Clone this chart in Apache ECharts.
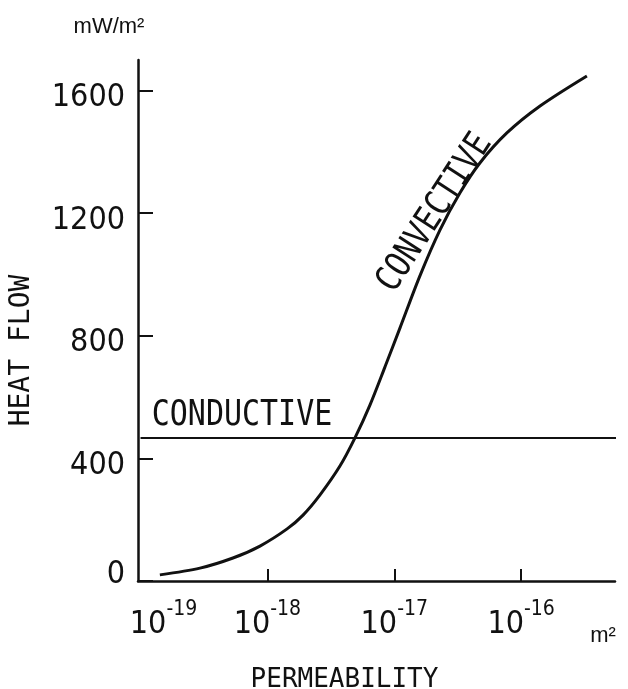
<!DOCTYPE html>
<html>
<head>
<meta charset="utf-8">
<script src="https://cdn.jsdelivr.net/npm/echarts@6/dist/echarts.min.js"></script>
<style>
	html, body { margin: 0; padding: 0; background: #fff; }
	#heatFlowChart { width: 628px; height: 689px; }
</style>
</head>
<body>
<div id="heatFlowChart"></div>
<script>
// values: permeability in m2, heat flow in mW/m2
var permeability = [1.42e-19, 2.94e-19, 5.35e-19, 8.74e-19, 1.43e-18, 1.91e-18, 2.60e-18, 3.73e-18,
	4.90e-18, 6.43e-18, 8.44e-18, 1.11e-17, 1.59e-17, 2.29e-17, 3.29e-17, 4.73e-17,
	7.72e-17, 1.41e-16, 3.30e-16];
var heatFlow = [20, 42, 75, 114, 170, 215, 281, 375,
	467, 574, 698, 826, 995, 1145, 1266, 1364,
	1462, 1550, 1648];

// conductive level, flat across the plot
var conductivePerm = [1e-19, 6.8e-16];
var conductiveHeat = [467, 467];

// tick labels
var xLabelExp = [-19, -18, -17, -16];
var xTickExp = [-18, -17, -16];
var yTicks = [0, 400, 800, 1200, 1600];

var narrow = '"Liberation Sans Narrow", "DejaVu Sans Condensed", sans-serif';
var mono = '"DejaVu Sans Mono", monospace';
var ink = '#111';

function toPoints(ks, qs) {
	var pts = [];
	for (var i = 0; i < ks.length; i++) {
		pts.push([Math.log10(ks[i]), qs[i]]);
	}
	return pts;
}

var chart = echarts.init(document.getElementById('heatFlowChart'));

var option = {
	backgroundColor: '#fff',
	animation: false,

	grid: {
		left: 138,
		right: 13,
		top: 60,
		bottom: 108,
		outerBoundsMode: 'none'
	},

	// permeability axis, log10 of m2
	xAxis: {
		type: 'value',
		min: -19.02,
		max: -15.26,
		name: 'PERMEABILITY',
		nameLocation: 'middle',
		nameGap: 86,
		nameTextStyle: {
			fontFamily: mono,
			fontSize: 26,
			color: ink,
			padding: [0, 64, 0, 0]
		},
		axisLine: { lineStyle: { color: ink, width: 2.5 } },
		axisTick: {
			inside: true,
			length: 12,
			customValues: xTickExp,
			lineStyle: { color: ink, width: 2 }
		},
		axisLabel: {
			customValues: xLabelExp,
			margin: 18,
			formatter: function (v) {
				var pre = Math.round(v) === -19 ? '{sp|}' : '';
				return pre + '{b|10}{s|' + Math.round(v) + '}';
			},
			rich: {
				b: { fontFamily: narrow, fontSize: 32, lineHeight: 42, verticalAlign: 'bottom', color: ink },
				s: { fontFamily: narrow, fontSize: 21, lineHeight: 20, verticalAlign: 'top', color: ink },
				sp: { width: 46 }
			}
		},
		splitLine: { show: false }
	},

	// heat flow axis
	yAxis: {
		type: 'value',
		min: 0,
		max: 1700,
		name: 'HEAT FLOW',
		nameLocation: 'middle',
		nameGap: 102,
		nameTextStyle: {
			fontFamily: mono,
			fontSize: 28,
			color: ink,
			padding: [0, 60, 0, 0]
		},
		axisLine: { lineStyle: { color: ink, width: 2.5 } },
		axisTick: {
			inside: true,
			length: 15,
			customValues: yTicks,
			lineStyle: { color: ink, width: 2 }
		},
		axisLabel: {
			customValues: yTicks,
			margin: 13,
			formatter: function (v) {
				// the zero sits a little above its tick, the others a little below
				return v === 0 ? '{z|0}' : '{n|' + v + '}';
			},
			rich: {
				n: { fontFamily: narrow, fontSize: 32, color: ink, padding: [14, 0, 0, 0] },
				z: { fontFamily: narrow, fontSize: 32, color: ink, padding: [0, 0, 12, 0] }
			}
		},
		splitLine: { show: false }
	},

	series: [
		{
			name: 'convective',
			type: 'line',
			data: toPoints(permeability, heatFlow),
			smooth: 0.3,
			showSymbol: false,
			lineStyle: { color: ink, width: 3 }
		},
		{
			name: 'conductive',
			type: 'line',
			data: toPoints(conductivePerm, conductiveHeat),
			clip: false,
			showSymbol: false,
			lineStyle: { color: ink, width: 2 }
		}
	],

	// units and curve labels
	graphic: [
		{
			type: 'text', x: 109, y: 27,
			style: { text: 'mW/m²', font: '22px "Liberation Sans", Arial, sans-serif', fill: ink, align: 'center', verticalAlign: 'middle' }
		},
		{
			type: 'text', x: 603, y: 636,
			style: { text: 'm²', font: '22px "Liberation Sans", Arial, sans-serif', fill: ink, align: 'center', verticalAlign: 'middle' }
		},
		{
			type: 'text', x: 242, y: 416, scaleY: 1.2,
			style: { text: 'CONDUCTIVE', font: '30px ' + mono, fill: ink, align: 'center', verticalAlign: 'middle' }
		},
		{
			type: 'text', x: 435, y: 213, scaleY: 1.2, rotation: 57 * Math.PI / 180,
			style: { text: 'CONVECTIVE', font: '30px ' + mono, fill: ink, align: 'center', verticalAlign: 'middle' }
		}
	]
};

chart.setOption(option);
</script>
</body>
</html>
